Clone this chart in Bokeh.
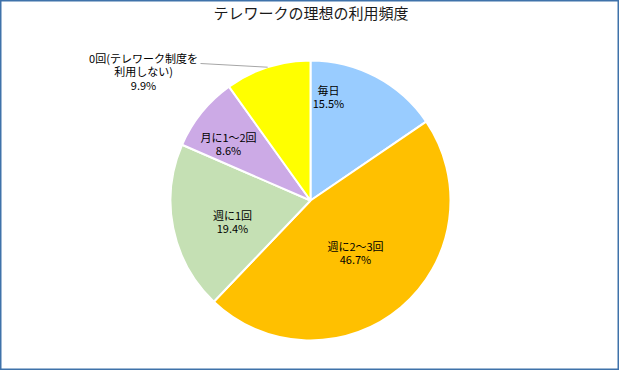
import math
from bokeh.plotting import figure
from bokeh.models import Range1d, ColumnDataSource
from bokeh.core.properties import value
from bokeh.embed import file_html
from bokeh.resources import INLINE

# ---- data ----
title_text = "テレワークの理想の利用頻度"
categories = ["毎日", "週に2～3回", "週に1回", "月に1～2回", "0回(テレワーク制度を\n利用しない)"]
percents = [15.5, 46.7, 19.4, 8.6, 9.9]
colors = ["#99CCFF", "#FFC000", "#C5E0B4", "#CCAAE6", "#FFFF00"]

# ---- layout ----
W, H = 619, 370
CX, CY, R = 310, 170, 140
FONT = "Noto Sans CJK JP"
# label block centres relative to pie centre (screen px, y up)
label_offsets = [(18, 104), (45, -52), (-78, -21), (-82, 57), (-167, 129)]
outside = [False, False, False, False, True]

total = sum(percents)
starts, ends, mids = [], [], []
cum = 0.0
for v in percents:
    a0 = math.pi / 2 - 2 * math.pi * (cum + v) / total
    a1 = math.pi / 2 - 2 * math.pi * cum / total
    starts.append(a0)
    ends.append(a1)
    mids.append((a0 + a1) / 2)
    cum += v

p = figure(width=W, height=H, output_backend="svg", toolbar_location=None,
           x_range=Range1d(0, W), y_range=Range1d(0, H), min_border=0)
p.axis.visible = False
p.grid.visible = False
p.background_fill_color = "white"
p.border_fill_color = "white"
p.outline_line_color = "#3F72AA"
p.outline_line_width = 2

src = ColumnDataSource(dict(start=starts, end=ends, color=colors))
p.wedge(x=CX, y=CY, radius=R, start_angle="start", end_angle="end",
        fill_color="color", line_color="white", line_width=2, source=src)

texts = [f"{c}\n{v:.1f}%" for c, v in zip(categories, percents)]
lx = [CX + dx for dx, dy in label_offsets]
ly = [CY + dy for dx, dy in label_offsets]
p.text(x=lx, y=ly, text=texts, text_font=value(FONT), text_font_size="11px",
       text_align="center", text_baseline="middle", text_color="#000000",
       text_line_height=0.85)

# leader lines for outside labels
for i, o in enumerate(outside):
    if o:
        ex = CX + R * math.cos(mids[i])
        ey = CY + R * math.sin(mids[i])
        p.line([ex, CX + label_offsets[i][0] + 57], [ey, CY + label_offsets[i][1] + 8],
               line_color="#A6A6A6", line_width=1)

p.text(x=[W / 2 + 1], y=[H - 12], text=[title_text], text_font=value(FONT),
       text_font_size="15px", text_align="center", text_baseline="middle",
       text_color="#1a1a1a")

open("out.html", "w").write(file_html(p, INLINE))
